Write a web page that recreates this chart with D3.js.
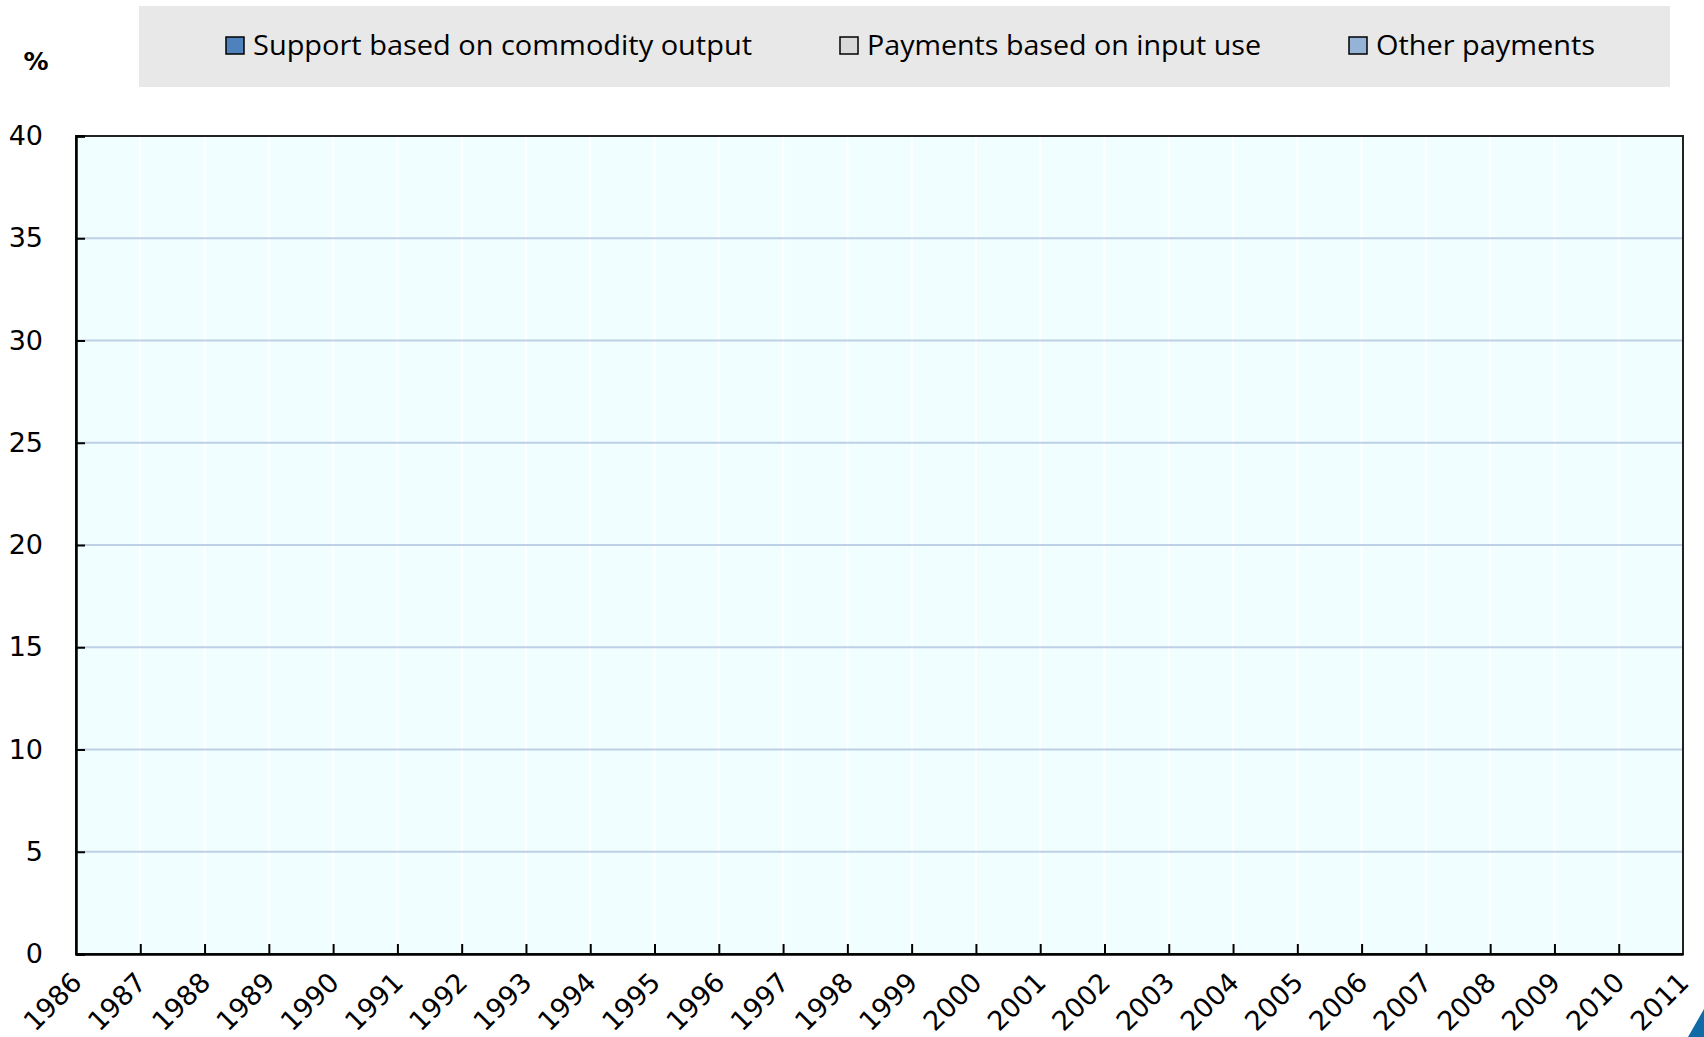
<!DOCTYPE html>
<meta charset="utf-8" />
<style>
  body { margin: 0; background: #fff; }
  text { font-family: "DejaVu Sans", sans-serif; fill: #000; }
</style>
<body>
  <div id="chart"></div>
  <script src="https://d3js.org/d3.v7.min.js"></script>
  <script>
    // categories and tick labels
    var years = ["1986", "1987", "1988", "1989", "1990", "1991", "1992", "1993", "1994",
      "1995", "1996", "1997", "1998", "1999", "2000", "2001", "2002", "2003", "2004",
      "2005", "2006", "2007", "2008", "2009", "2010", "2011"];
    var yTicks = [0, 5, 10, 15, 20, 25, 30, 35, 40];

    // series (the reference shows no bars at all, so nothing is filled in)
    var seriesNames = ["Support based on commodity output", "Payments based on input use", "Other payments"];
    var commodityOutput = [];
    var inputUse = [];
    var otherPayments = [];
    var seriesColors = ["#4f81bd", "#d9d9d9", "#95b3d7"];

    // dimensions
    var W = 1704, H = 1037;
    var margin = { top: 136, right: 21, bottom: 83, left: 76 };
    var width = W - margin.left - margin.right,
      height = H - margin.top - margin.bottom;

    var svg = d3.select("#chart").append("svg")
      .attr("width", W)
      .attr("height", H);

    // legend box
    var legend = svg.append("g");
    legend.append("rect")
      .attr("x", 139).attr("y", 6)
      .attr("width", 1531).attr("height", 81)
      .attr("fill", "#e8e8e8");

    var legendX = [226, 840, 1349];
    var legendW = [499, 394, 219];
    seriesNames.forEach(function(name, i) {
      legend.append("rect")
        .attr("x", legendX[i]).attr("y", 37)
        .attr("width", 18).attr("height", 17)
        .attr("fill", seriesColors[i])
        .attr("stroke", "#000")
        .attr("stroke-width", 1.5);
      legend.append("text")
        .attr("x", legendX[i] + 27)
        .attr("y", 45)
        .attr("dy", "0.35em")
        .attr("textLength", legendW[i])
        .attr("lengthAdjust", "spacingAndGlyphs")
        .style("font-family", "'Open Sans', sans-serif")
        .style("font-size", "28px")
        .text(name);
    });

    // unit label
    svg.append("text")
      .attr("x", 36).attr("y", 61)
      .attr("dy", "0.35em")
      .attr("text-anchor", "middle")
      .style("font-family", "'DejaVu Sans', sans-serif")
      .style("font-size", "25px")
      .style("font-weight", "bold")
      .text("%");

    var g = svg.append("g")
      .attr("transform", "translate(" + margin.left + "," + margin.top + ")");

    var x = d3.scalePoint().domain(years).range([0, width]);
    var y = d3.scaleLinear().domain([0, 40]).range([height, 0]);

    // plot background
    g.append("rect")
      .attr("width", width).attr("height", height)
      .attr("fill", "#f1feff");

    // vertical white gridlines
    g.append("g")
      .selectAll("line")
      .data(years.slice(1, -1))
      .enter().append("line")
      .attr("x1", function(d) { return x(d); })
      .attr("x2", function(d) { return x(d); })
      .attr("y1", 0).attr("y2", height)
      .attr("stroke", "#ffffff")
      .attr("stroke-width", 2);

    // horizontal gridlines
    g.append("g")
      .selectAll("line")
      .data(yTicks.slice(1, -1))
      .enter().append("line")
      .attr("x1", 0).attr("x2", width)
      .attr("y1", function(d) { return y(d); })
      .attr("y2", function(d) { return y(d); })
      .attr("stroke", "#bdd0e6")
      .attr("stroke-width", 2);

    // stacked bars (drawn only where values exist)
    var seriesData = [commodityOutput, inputUse, otherPayments];
    var barW = x.step() * 0.6;
    years.forEach(function(yr, i) {
      var base = 0;
      seriesData.forEach(function(s, k) {
        var v = s[i];
        if (v == null) return;
        g.append("rect")
          .attr("x", x(yr) - barW / 2)
          .attr("y", y(base + v))
          .attr("width", barW)
          .attr("height", y(base) - y(base + v))
          .attr("fill", seriesColors[k])
          .attr("stroke", "#000")
          .attr("stroke-width", 1);
        base += v;
      });
    });

    // plot border
    g.append("rect")
      .attr("width", width).attr("height", height)
      .attr("fill", "none")
      .attr("stroke", "#222")
      .attr("stroke-width", 2);

    // y axis
    var yAxis = g.append("g")
      .call(d3.axisLeft(y).tickValues(yTicks).tickSize(-9).tickPadding(33));
    yAxis.select(".domain").attr("stroke", "#000").attr("stroke-width", 2.5);
    yAxis.selectAll(".tick line").attr("stroke", "#000").attr("stroke-width", 2);
    yAxis.selectAll(".tick text")
      .style("font-family", "'DejaVu Sans', sans-serif")
      .style("font-size", "27px")
      .attr("fill", "#000");

    // x axis
    var xAxis = g.append("g")
      .attr("transform", "translate(0," + height + ")")
      .call(d3.axisBottom(x).tickSize(-10).tickSizeOuter(0));
    xAxis.select(".domain").attr("stroke", "#000").attr("stroke-width", 2.5);
    xAxis.selectAll(".tick line")
      .attr("stroke", "#000").attr("stroke-width", 2)
      .attr("display", function(d, i) { return (i === 0 || i === years.length - 1) ? "none" : null; });
    xAxis.selectAll(".tick text")
      .style("font-family", "'DejaVu Sans', sans-serif")
      .style("font-size", "27px")
      .attr("fill", "#000")
      .attr("text-anchor", "end")
      .attr("y", 0).attr("dy", 0)
      .attr("transform", "translate(7,30) rotate(-45)");

    // corner decoration
    svg.append("path")
      .attr("d", "M1688,1037L1704,1037L1704,1009Z")
      .attr("fill", "#0f6aa6");
  </script>
</body>
